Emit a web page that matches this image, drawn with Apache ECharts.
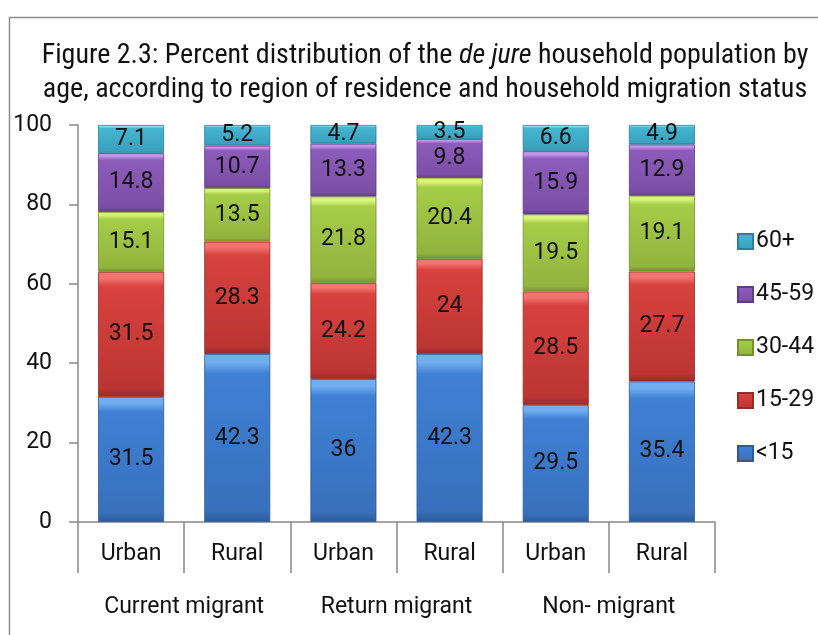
<!DOCTYPE html>
<html>
<head>
<meta charset="utf-8">
<script src="https://cdn.jsdelivr.net/npm/echarts@6/dist/echarts.min.js"></script>
<style>
  html, body { margin: 0; padding: 0; background: #fff; }
  #chart { width: 818px; height: 635px; }
</style>
</head>
<body>
<div id="chart"></div>
<script>
// categories
const places = ['Urban', 'Rural', 'Urban', 'Rural', 'Urban', 'Rural']
const groups = ['Current migrant', 'Return migrant', 'Non- migrant']

// series values (percent), bottom to top
const under15 = [31.5, 42.3, 36, 42.3, 29.5, 35.4]
const age15to29 = [31.5, 28.3, 24.2, 24, 28.5, 27.7]
const age30to44 = [15.1, 13.5, 21.8, 20.4, 19.5, 19.1]
const age45to59 = [14.8, 10.7, 13.3, 9.8, 15.9, 12.9]
const age60plus = [7.1, 5.2, 4.7, 3.5, 6.6, 4.9]

const font = "Roboto, 'Open Sans', sans-serif"
const narrow = "'Liberation Sans Narrow', 'Roboto Condensed', Roboto, sans-serif"

// excel-like bevel: light top edge, body fading a little darker, dark bottom
const bevel = (light, top, bottom, dark) => new echarts.graphic.LinearGradient(0, 0, 0, 1, [
  { offset: 0, color: light },
  { offset: 0.05, color: light },
  { offset: 0.12, color: top },
  { offset: 0.93, color: bottom },
  { offset: 1, color: dark }
])

const layers = [
  { name: '<15', data: under15, c: ['#70aef0', '#3f80d4', '#3870bc', '#2c5a98'] },
  { name: '15-29', data: age15to29, c: ['#f07570', '#d8423e', '#bb3532', '#982a28'] },
  { name: '30-44', data: age30to44, c: ['#d8f47a', '#a6cd48', '#92b33e', '#74902e'] },
  { name: '45-59', data: age45to59, c: ['#c096ea', '#8c5cba', '#7a4ea6', '#5e3c84'] },
  { name: '60+', data: age60plus, c: ['#88e2f2', '#45b6d2', '#3aa0bc', '#2c8098'] }
]

const chart = echarts.init(document.getElementById('chart'))

chart.setOption({
  animation: false,
  textStyle: { fontFamily: font },
  graphic: [{
    type: 'rect',
    shape: { x: 9.5, y: 17.5, width: 900, height: 700 },
    style: { fill: 'none', stroke: '#8c8c8c', lineWidth: 1.5 },
    z: -1
  }],
  title: {
    text: 'Figure 2.3: Percent distribution of the {i|de jure} household population by\nage, according to region of residence and household migration status',
    left: 420,
    textAlign: 'center',
    top: 34,
    textStyle: {
      fontFamily: narrow,
      fontSize: 28,
      fontWeight: 'normal',
      color: '#111',
      lineHeight: 34,
      rich: {
        i: {
          fontFamily: narrow,
          fontSize: 28,
          fontStyle: 'italic',
          color: '#111',
          lineHeight: 34
        }
      }
    }
  },
  legend: {
    orient: 'vertical',
    left: 732,
    top: 225,
    itemWidth: 15,
    itemHeight: 15,
    itemGap: 30,
    icon: 'rect',
    data: ['60+', '45-59', '30-44', '15-29', '<15'],
    textStyle: { fontFamily: font, fontSize: 23, color: '#111', padding: [0, 0, 0, -2] }
  },
  grid: { left: 78, right: 103, top: 125, bottom: 113 },
  xAxis: [{
    type: 'category',
    data: places,
    axisLine: { lineStyle: { color: '#888', width: 1.5 } },
    axisTick: { show: true, interval: 0, length: 51, lineStyle: { color: '#888', width: 1.5 } },
    axisLabel: { interval: 0, margin: 21, fontSize: 23, color: '#111', fontFamily: font }
  }, {
    type: 'category',
    data: groups,
    position: 'bottom',
    axisLine: { show: false },
    axisTick: { show: false },
    axisLabel: { interval: 0, margin: 74, fontSize: 23, color: '#111', fontFamily: font }
  }],
  yAxis: {
    type: 'value',
    min: 0,
    max: 100,
    interval: 20,
    axisLine: { show: true, lineStyle: { color: '#888', width: 1.5 } },
    axisTick: { show: true, inside: false, length: 9, lineStyle: { color: '#888', width: 1.5 } },
    splitLine: { show: false },
    axisLabel: { margin: 26, fontSize: 23, color: '#111', fontFamily: font }
  },
  series: layers.map(l => ({
    name: l.name,
    type: 'bar',
    stack: 'age',
    barWidth: 66,
    data: l.data,
    itemStyle: {
      color: bevel(l.c[0], l.c[1], l.c[2], l.c[3]),
      borderColor: l.c[3],
      borderWidth: 0.8
    },
    label: {
      show: true,
      position: 'inside',
      color: '#111',
      fontSize: 23,
      fontFamily: font
    }
  }))
})
</script>
</body>
</html>
